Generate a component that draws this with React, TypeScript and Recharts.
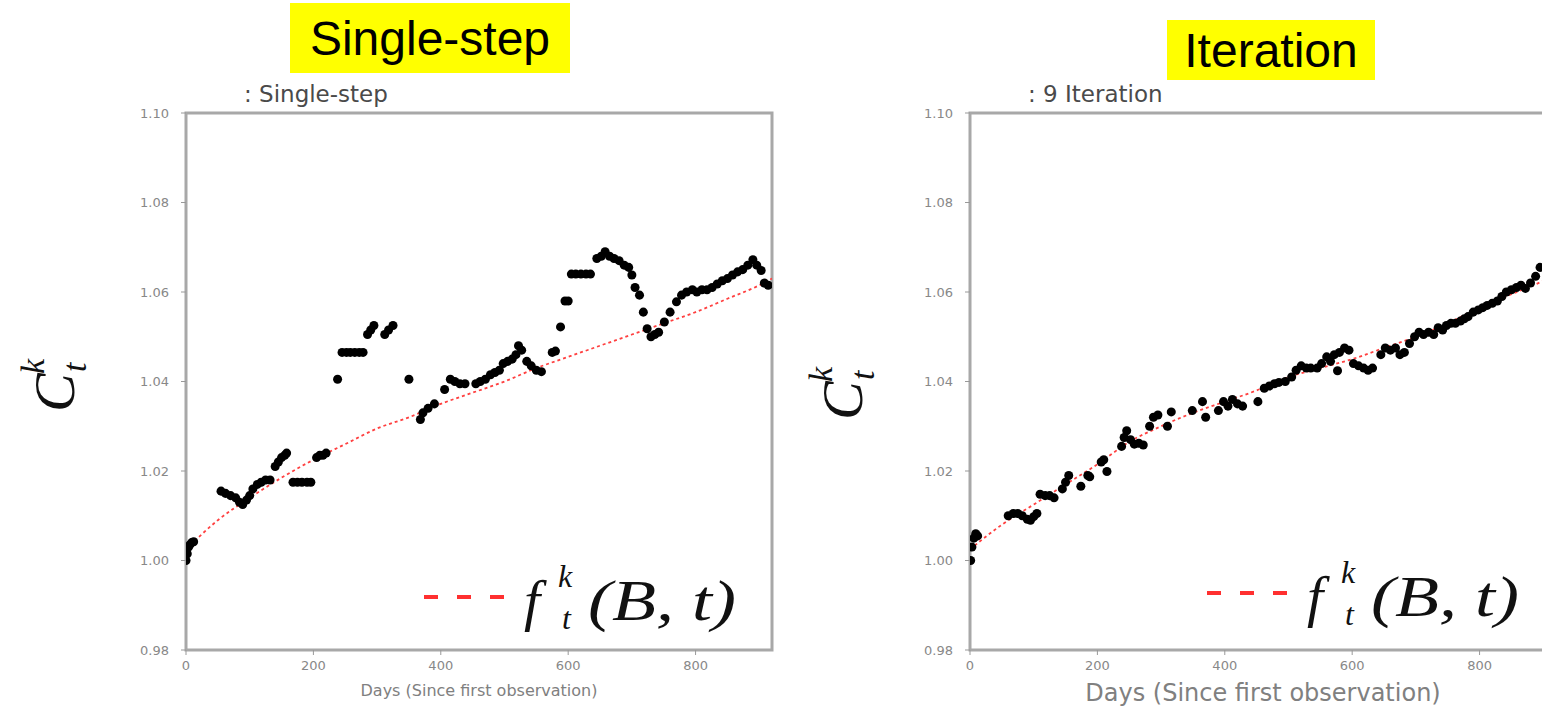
import React from "react";
import { ComposedChart, Scatter, Line, XAxis, YAxis, ZAxis, ReferenceArea } from "recharts";

const dayTicks = [0, 200, 400, 600, 800];
const cTicks = [0.98, 1.0, 1.02, 1.04, 1.06, 1.08, 1.1];

// fitted curve f_t^k(B, t), sampled every 50 days
const fitDays = [0, 50, 100, 150, 200, 250, 300, 350, 400, 450, 500, 550, 600, 650, 700, 750, 800, 850, 900, 920];
const singleStepFit = [1.0025, 1.009, 1.014, 1.0185, 1.0225, 1.026, 1.0295, 1.032, 1.035, 1.0375, 1.04, 1.043, 1.0455, 1.048, 1.0505, 1.053, 1.0555, 1.0585, 1.0615, 1.063];
const iterationFit = [1.0025, 1.008, 1.0125, 1.017, 1.0215, 1.0265, 1.03, 1.033, 1.0355, 1.038, 1.041, 1.043, 1.045, 1.0475, 1.05, 1.053, 1.0565, 1.0595, 1.0625, 1.064];

const singleStepDays = [
  0, 2, 4, 6, 9, 12, 55, 62, 70, 78, 84, 89, 95, 100, 105, 112, 118, 125, 132, 140, 145, 150, 155, 158,
  168, 175, 182, 190, 196, 205, 210, 215, 220, 238, 245, 252, 258, 265, 272, 278, 285, 290, 295, 312, 318, 325,
  350, 368, 372, 380, 390, 406, 415, 422, 430, 438, 455, 462, 470, 478, 485, 492, 498, 505, 512, 518, 522, 527,
  535, 542, 550, 558, 575, 580, 588, 595, 600, 605, 612, 620, 628, 635, 645, 652, 658, 665, 672, 680, 688, 695,
  700, 705, 712, 718, 724, 730, 736, 742, 751, 760, 770, 778, 786, 795, 802, 810, 818, 826, 834, 842, 850, 858,
  866, 874, 882, 890, 896, 903, 908, 914,
];
const singleStepC = [
  1.0, 1.0015, 1.003, 1.0035, 1.004, 1.0042, 1.0155, 1.015, 1.0145, 1.014, 1.013, 1.0125, 1.0135, 1.0145, 1.016, 1.017, 1.0175, 1.018, 1.018, 1.021, 1.022, 1.023, 1.0235, 1.024,
  1.0175, 1.0175, 1.0175, 1.0175, 1.0175, 1.023, 1.0235, 1.0235, 1.024, 1.0405, 1.0465, 1.0465, 1.0465, 1.0465, 1.0465, 1.0465, 1.0505, 1.0515, 1.0525, 1.0505, 1.0515, 1.0525,
  1.0405, 1.0315, 1.033, 1.034, 1.035, 1.0382, 1.0405, 1.04, 1.0395, 1.0395, 1.0395, 1.04, 1.0405, 1.0415, 1.042, 1.0425, 1.044, 1.0445, 1.045, 1.046, 1.048, 1.047,
  1.0445, 1.0435, 1.0425, 1.0422, 1.0465, 1.0468, 1.0522, 1.058, 1.058, 1.064, 1.064, 1.064, 1.064, 1.064, 1.0675, 1.068, 1.069, 1.068, 1.0675, 1.067, 1.066, 1.0655,
  1.0638, 1.061, 1.0593, 1.0555, 1.0518, 1.05, 1.0505, 1.051, 1.0533, 1.0555, 1.0578, 1.0593, 1.06, 1.0605, 1.06, 1.0605, 1.0605, 1.061, 1.0618, 1.0625, 1.063, 1.0638,
  1.0645, 1.065, 1.066, 1.0672, 1.066, 1.0648, 1.062, 1.0615,
];

const iterationDays = [
  1, 3, 6, 9, 12, 60, 68, 75, 82, 90, 95, 100, 105, 110, 118, 125, 132, 145, 150, 155, 174, 185, 188, 206, 210, 215,
  238, 242, 246, 252, 258, 265, 272, 282, 288, 295, 310, 316, 349, 365, 370, 390, 398, 405, 412, 420, 428,
  452, 462, 470, 478, 485, 495, 505, 512, 520, 528, 535, 545, 552, 560, 566, 572, 577, 580, 588, 595,
  602, 610, 618, 625, 632, 645, 652, 660, 668, 675, 682, 690, 698, 705, 712, 720, 728, 735, 742,
  748, 755, 762, 770, 776, 782, 790, 798, 805, 812, 820, 828, 835, 842, 850, 858, 865, 872, 880, 888, 895,
];
const iterationC = [
  1.0, 1.003, 1.005, 1.006, 1.0055, 1.01, 1.0105, 1.0105, 1.01, 1.0092, 1.009, 1.0098, 1.0105, 1.0148, 1.0145, 1.0145, 1.014, 1.016, 1.0175, 1.019, 1.0166, 1.019, 1.0187, 1.022, 1.0225, 1.0199,
  1.0255, 1.0275, 1.029, 1.027, 1.026, 1.0262, 1.0258, 1.03, 1.032, 1.0325, 1.03, 1.0332, 1.0335, 1.0355, 1.032, 1.0335, 1.0355, 1.0345, 1.036, 1.035, 1.0345,
  1.0355, 1.0385, 1.039, 1.0395, 1.0398, 1.04, 1.041, 1.0425, 1.0435, 1.043, 1.043, 1.043, 1.044, 1.0455, 1.0445, 1.046, 1.0424, 1.0465, 1.0475, 1.047,
  1.044, 1.0435, 1.043, 1.0425, 1.043, 1.046, 1.0475, 1.047, 1.0475, 1.046, 1.0465, 1.0485, 1.05, 1.051, 1.0505, 1.051, 1.0505, 1.052, 1.0515,
  1.0525, 1.053, 1.053, 1.0535, 1.054, 1.0545, 1.0555, 1.056, 1.0565, 1.057, 1.0575, 1.058, 1.059, 1.06, 1.0605, 1.061, 1.0615, 1.0608, 1.062, 1.0635, 1.0655,
];

const toPoints = (xs: number[], ys: number[]) => xs.map((x, i) => ({ x, y: ys[i] }));

const mathFont = "'Liberation Serif', serif";

function YMathLabel({ x, y }: { x: number; y: number }) {
  return (
    <svg style={{ position: "absolute", left: 0, top: 0, overflow: "visible" }} width={1} height={1}>
      <g transform={`translate(${x},${y}) rotate(-90)`} fontFamily={mathFont} fontStyle="italic" fill="#111">
        <text x={0} y={0} fontSize={58}>C</text>
        <text x={38} y={-30} fontSize={34}>k</text>
        <text x={40} y={12} fontSize={34}>t</text>
      </g>
    </svg>
  );
}

function FitLegend({ x, y }: { x: number; y: number }) {
  return (
    <svg style={{ position: "absolute", left: x, top: y, overflow: "visible" }} width={330} height={90}>
      <line x1={4} x2={88} y1={47} y2={47} stroke="#ff3030" strokeWidth={4} strokeDasharray="14 19" />
      <g fontFamily={mathFont} fontStyle="italic" fill="#111">
        <text x={104} y={70} fontSize={58}>f</text>
        <text x={138} y={37} fontSize={32}>k</text>
        <text x={142} y={79} fontSize={32}>t</text>
        <text x={168} y={70} fontSize={58} textLength={148} lengthAdjust="spacingAndGlyphs">(B, t)</text>
      </g>
    </svg>
  );
}

function Panel({ left, marginLeft, marginRight, dots, fit, subtitle, xLabelSize, xLabelTop }: {
  left: number; marginLeft: number; marginRight: number;
  dots: { x: number; y: number }[]; fit: { x: number; y: number }[];
  subtitle: string; xLabelSize: number; xLabelTop: number;
}) {
  const plotLeft = left + marginLeft + 50;
  const plotWidth = 800 - marginLeft - 50 - marginRight;
  return (
    <>
      <div style={{ position: "absolute", left, top: 0 }}>
        <ComposedChart
          width={800}
          height={707}
          margin={{ top: 113, right: marginRight, bottom: 27, left: marginLeft }}
          style={{ fontFamily: "'DejaVu Sans', sans-serif" }}
        >
          <XAxis
            dataKey="x"
            type="number"
            domain={[0, 920]}
            ticks={dayTicks}
            allowDataOverflow
            axisLine={false}
            tickLine={{ stroke: "#999" }}
            tickSize={5}
            tickMargin={6}
            height={30}
            tick={{ fontSize: 13, fill: "#888" }}
          />
          <YAxis
            dataKey="y"
            type="number"
            domain={[0.98, 1.1]}
            ticks={cTicks}
            allowDataOverflow
            tickFormatter={(v: number) => v.toFixed(2)}
            axisLine={false}
            tickLine={{ stroke: "#999" }}
            tickSize={5}
            tickMargin={12}
            width={50}
            tick={{ fontSize: 13, fill: "#888" }}
          />
          <ZAxis range={[64, 64]} />
          <ReferenceArea x1={0} x2={920} y1={0.98} y2={1.1} fill="none" stroke="#a8a8a8" strokeWidth={3} />
          <Scatter data={dots} fill="#000" isAnimationActive={false} />
          <Line
            data={fit}
            dataKey="y"
            type="monotone"
            stroke="#ff4040"
            strokeWidth={1.8}
            strokeDasharray="3 3"
            dot={false}
            isAnimationActive={false}
          />
        </ComposedChart>
      </div>
      <div style={{ position: "absolute", left: plotLeft + 58, top: 81, fontSize: 23, color: "#4a4a4a", fontFamily: "'DejaVu Sans', sans-serif", whiteSpace: "nowrap" }}>
        {subtitle}
      </div>
      <div style={{ position: "absolute", left: plotLeft, width: plotWidth, top: xLabelTop, lineHeight: `${xLabelSize}px`, textAlign: "center", fontSize: xLabelSize, color: "#808080", fontFamily: "'DejaVu Sans', sans-serif", whiteSpace: "nowrap" }}>
        Days (Since first observation)
      </div>
    </>
  );
}

export default function App() {
  const singleDots = toPoints(singleStepDays, singleStepC);
  const iterDots = toPoints(iterationDays, iterationC);
  const singleFitPts = toPoints(fitDays, singleStepFit);
  const iterFitPts = toPoints(fitDays, iterationFit);
  return (
    <div style={{ position: "fixed", left: 0, top: 0, width: 1542, height: 707, overflow: "hidden", background: "#fff" }}>
      <Panel left={0} marginLeft={136} marginRight={28} dots={singleDots} fit={singleFitPts} subtitle=": Single-step" xLabelSize={16} xLabelTop={683} />
      <Panel left={780} marginLeft={140} marginRight={24} dots={iterDots} fit={iterFitPts} subtitle=": 9 Iteration" xLabelSize={24} xLabelTop={681} />

      <div style={{ position: "absolute", left: 290, top: 3, width: 280, height: 70, background: "#ffff00", display: "flex", alignItems: "center", justifyContent: "center", fontFamily: "'Liberation Sans', Arial, sans-serif", fontSize: 48, color: "#000" }}>
        Single-step
      </div>
      <div style={{ position: "absolute", left: 1167, top: 20, width: 208, height: 60, background: "#ffff00", display: "flex", alignItems: "center", justifyContent: "center", fontFamily: "'Liberation Sans', Arial, sans-serif", fontSize: 48, color: "#000" }}>
        Iteration
      </div>

      <YMathLabel x={74} y={412} />
      <YMathLabel x={862} y={420} />
      <FitLegend x={420} y={550} />
      <FitLegend x={1203} y={546} />
    </div>
  );
}
